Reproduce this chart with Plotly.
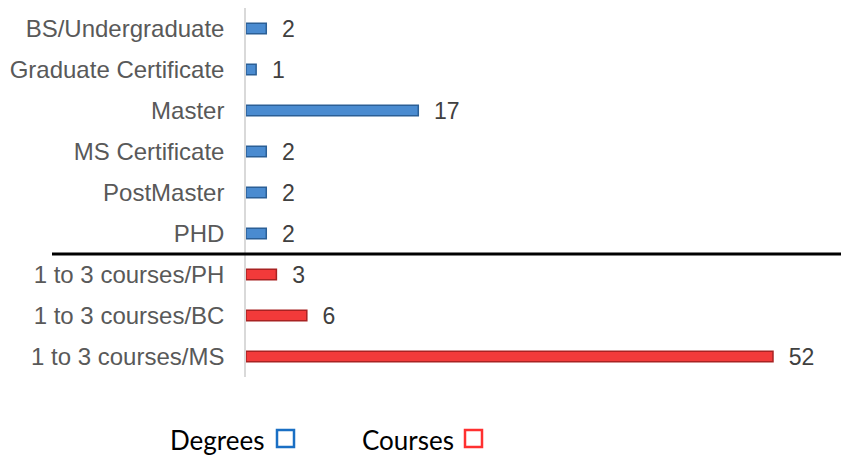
import plotly.graph_objects as go

degree_labels = ["BS/Undergraduate", "Graduate Certificate", "Master",
                 "MS Certificate", "PostMaster", "PHD"]
degree_counts = [2, 1, 17, 2, 2, 2]

course_labels = ["1 to 3 courses/PH", "1 to 3 courses/BC", "1 to 3 courses/MS"]
course_counts = [3, 6, 52]

all_labels = degree_labels + course_labels

BLUE = "#4a8bd0"
RED = "#f23a3a"

# page body adds an 8px offset, so the plot area is placed with that in mind
PLOT_L, PLOT_T, PLOT_W, PLOT_H = 246, 8, 603, 369


def px_x(x):
    return (x - PLOT_L) / PLOT_W


def px_y(y):
    return (PLOT_T + PLOT_H - y) / PLOT_H


value_font = {"family": "Liberation Sans, Arial", "size": 23, "color": "#404040"}

fig = go.Figure()
fig.add_trace(go.Bar(
    y=degree_labels, x=degree_counts, orientation="h", name="Degrees",
    marker={"color": BLUE, "line": {"color": "#2b5f96", "width": 1.5}},
    width=0.26, text=degree_counts, texttemplate="  %{x}",
    textposition="outside", cliponaxis=False, constraintext="none",
    textfont=value_font,
))
fig.add_trace(go.Bar(
    y=course_labels, x=course_counts, orientation="h", name="Courses",
    marker={"color": RED, "line": {"color": "#a82222", "width": 1.5}},
    width=0.26, text=course_counts, texttemplate="  %{x}",
    textposition="outside", cliponaxis=False, constraintext="none",
    textfont=value_font,
))

# separator between degrees and courses
fig.add_shape(type="line", xref="paper", yref="y", x0=px_x(52), x1=1.0,
              y0=len(degree_labels) - 0.5, y1=len(degree_labels) - 0.5,
              line={"color": "black", "width": 3})

# custom legend below the chart
legend_font = {"family": "Lato, Carlito, sans-serif", "size": 26, "color": "black"}
fig.add_annotation(xref="paper", yref="paper", x=px_x(266), y=px_y(440),
                   text="Degrees", showarrow=False, xanchor="right",
                   yanchor="middle", font=legend_font)
fig.add_annotation(xref="paper", yref="paper", x=px_x(456), y=px_y(440),
                   text="Courses", showarrow=False, xanchor="right",
                   yanchor="middle", font=legend_font)
fig.add_shape(type="rect", xref="paper", yref="paper",
              x0=px_x(277), x1=px_x(294), y0=px_y(447), y1=px_y(430),
              line={"color": "#1a6fc4", "width": 2.5})
fig.add_shape(type="rect", xref="paper", yref="paper",
              x0=px_x(465), x1=px_x(482), y0=px_y(447), y1=px_y(430),
              line={"color": "#ff3030", "width": 2.5})

fig.update_layout(
    width=849, height=465,
    margin={"l": PLOT_L - 8, "r": 849 - (PLOT_L - 8) - PLOT_W,
            "t": 0, "b": 465 - PLOT_H},
    plot_bgcolor="white", paper_bgcolor="white",
    showlegend=False, bargap=0.7,
)
fig.update_xaxes(range=[0, 59.5], visible=False)
fig.update_yaxes(
    categoryorder="array", categoryarray=all_labels, autorange="reversed",
    showline=True, linecolor="#d9d9d9", linewidth=1.5, showgrid=False,
    ticks="", ticklabelstandoff=15, automargin=False,
    tickfont={"family": "Liberation Sans, Arial", "size": 24, "color": "#595959"},
)

fig.write_html("out.html")
